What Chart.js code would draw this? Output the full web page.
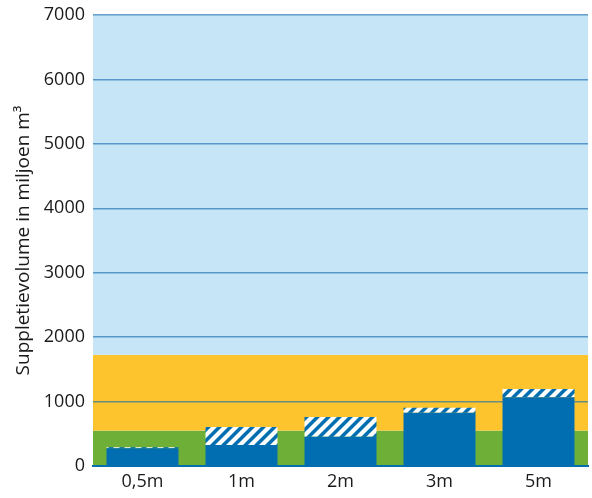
<!DOCTYPE html>
<html>
<head>
<meta charset="utf-8">
<script src="https://cdn.jsdelivr.net/npm/chart.js@4"></script>
<style>
html,body{margin:0;padding:0;background:#fff;}
#wrap{width:592px;height:498px;}
</style>
</head>
<body>
<div id="wrap"><canvas id="c" width="592" height="498"></canvas></div>
<script>
const categories = ["0,5m", "1m", "2m", "3m", "5m"];
const solidValues = [275, 325, 455, 827, 1066];
const totalValues = [290, 605, 760, 905, 1195];
const hatchedValues = totalValues.map((t, i) => t - solidValues[i]);
const yTicks = [0, 1000, 2000, 3000, 4000, 5000, 6000, 7000];
const bandLimits = [0, 550, 1725, 7000];
const bandColors = ["#6daf37", "#fdc42e", "#c6e6f7"];
const yTitle = "Suppletievolume in miljoen m³";

const BLUE = "#006eb0";

function makeHatch() {
  const p = document.createElement("canvas");
  const s = 11;
  p.width = s; p.height = s;
  const g = p.getContext("2d");
  g.fillStyle = BLUE;
  g.fillRect(0, 0, s, s);
  g.fillStyle = "#ffffff";
  for (let k = -1; k <= 1; k++) {
    const o = k * s;
    g.beginPath();
    g.moveTo(o, s);
    g.lineTo(o + 6, s);
    g.lineTo(o + 6 + s, 0);
    g.lineTo(o + s, 0);
    g.closePath();
    g.fill();
  }
  return document.getElementById("c").getContext("2d").createPattern(p, "repeat");
}

const bandsPlugin = {
  id: "bands",
  beforeDraw(chart) {
    const { ctx, chartArea, scales } = chart;
    const y = scales.y;
    ctx.save();
    for (let i = 0; i < bandColors.length; i++) {
      const y0 = y.getPixelForValue(bandLimits[i]);
      const y1 = y.getPixelForValue(bandLimits[i + 1]);
      ctx.fillStyle = bandColors[i];
      ctx.fillRect(chartArea.left, y1, chartArea.right - chartArea.left, y0 - y1);
    }
    ctx.restore();
  }
};

const font = "'Open Sans', 'DejaVu Sans', sans-serif";

new Chart(document.getElementById("c"), {
  type: "bar",
  data: {
    labels: categories,
    datasets: [
      { label: "solid", data: solidValues, backgroundColor: BLUE, borderWidth: 0,
        categoryPercentage: 1, barPercentage: 0.727 },
      { label: "hatched", data: hatchedValues, backgroundColor: makeHatch(), borderWidth: 0,
        categoryPercentage: 1, barPercentage: 0.727 }
    ]
  },
  options: {
    responsive: false,
    animation: false,
    devicePixelRatio: 1,
    layout: { padding: { top: 15, right: 4, left: 0, bottom: 0 } },
    plugins: { legend: { display: false }, tooltip: { enabled: false } },
    scales: {
      x: {
        stacked: true,
        grid: { display: false, drawTicks: false },
        border: { display: true, color: BLUE, width: 2 },
        ticks: { color: "#1a1a1a", font: { family: font, size: 18 }, padding: 5 },
        afterFit(s) { s.height = 32; }
      },
      y: {
        stacked: true,
        min: 0, max: 7000,
        afterBuildTicks(s) { s.ticks = yTicks.map(v => ({ value: v })); },
        grid: { color: "rgba(26,111,176,0.65)", lineWidth: 1.5, drawTicks: false },
        border: { display: false },
        ticks: { color: "#1a1a1a", font: { family: font, size: 18 }, padding: 8,
                 callback: v => String(v) },
        title: { display: true, text: yTitle, color: "#1a1a1a", font: { family: font, size: 19 }, padding: { top: 12, bottom: 0 } },
        afterFit(s) { s.width = 93; s.paddingTop = 0; s.paddingBottom = 0; }
      }
    }
  },
  plugins: [bandsPlugin]
});
</script>
</body>
</html>
